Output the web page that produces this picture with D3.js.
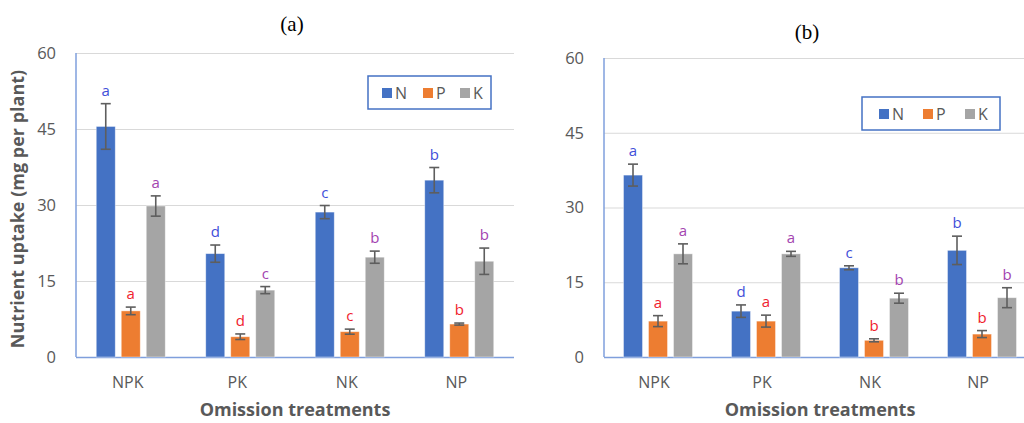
<!DOCTYPE html>
<html>
<head>
<meta charset="utf-8">
<script src="https://cdn.jsdelivr.net/npm/d3@7"></script>
<style>
  body { margin: 0; background: #fff; }
  svg { display: block; }
  text { font-family: "Open Sans", "Noto Sans", sans-serif; }
</style>
</head>
<body>
<script>
// data
const categories = ['NPK', 'PK', 'NK', 'NP'];
const nutrients = ['N', 'P', 'K'];
const yTicks = [0, 15, 30, 45, 60];

// panel (a)
const valuesA = {
  N: [45.5, 20.4, 28.6, 34.9],
  P: [9.1, 4.0, 5.0, 6.5],
  K: [29.8, 13.2, 19.7, 18.9]
};
const errorsA = {
  N: [4.5, 1.7, 1.3, 2.5],
  P: [0.75, 0.55, 0.5, 0.2],
  K: [2.0, 0.7, 1.2, 2.6]
};
const lettersA = {
  N: ['a', 'd', 'c', 'b'],
  P: ['a', 'd', 'c', 'b'],
  K: ['a', 'c', 'b', 'b']
};

// panel (b)
const valuesB = {
  N: [36.5, 9.2, 17.9, 21.4],
  P: [7.2, 7.2, 3.35, 4.6],
  K: [20.7, 20.7, 11.8, 11.9]
};
const errorsB = {
  N: [2.2, 1.25, 0.4, 2.85],
  P: [1.1, 1.2, 0.3, 0.7],
  K: [2.0, 0.5, 1.0, 2.0]
};
const lettersB = {
  N: ['a', 'd', 'c', 'b'],
  P: ['a', 'a', 'b', 'b'],
  K: ['a', 'a', 'b', 'b']
};

const barColor = { N: '#4472c4', P: '#ed7d31', K: '#a5a5a5' };
const letterColor = { N: '#3f4fd9', P: '#f0222e', K: '#a344b0' };
const textGray = '#595959';
const axisBlue = '#7f9fdc';

const svg = d3.select('body')
  .append('svg')
  .attr('width', 1024)
  .attr('height', 423);

// draws one panel of grouped bars
const drawPanel = (opts) => {
  const g = svg.append('g');

  const x = d3.scaleBand()
    .domain(categories)
    .range([opts.left, opts.right]);

  const xInner = d3.scaleBand()
    .domain(nutrients)
    .range([-34.5, 34.5])
    .paddingInner(0.24);

  const y = d3.scaleLinear()
    .domain([0, 60])
    .range([opts.bottom, opts.top]);

  // gridlines + tick labels
  const yAxis = g.append('g')
    .attr('transform', `translate(${opts.left},0)`)
    .call(d3.axisLeft(y).tickValues(yTicks).tickSize(-(opts.right - opts.left)).tickPadding(20));
  yAxis.select('.domain').remove();
  yAxis.selectAll('line')
    .attr('stroke', d => d === 0 ? axisBlue : '#d9d9d9')
    .attr('stroke-width', d => d === 0 ? 1.5 : 1.2);
  yAxis.selectAll('text')
    .attr('fill', textGray)
    .style('font-size', '16.5px');

  // left axis line
  g.append('line')
    .attr('x1', opts.left).attr('x2', opts.left)
    .attr('y1', y(0)).attr('y2', y(60))
    .attr('stroke', axisBlue)
    .attr('stroke-width', 1.5);

  // category labels
  g.selectAll('.cat')
    .data(categories)
    .enter()
    .append('text')
    .attr('x', d => x(d) + x.bandwidth() / 2 + opts.labelShift)
    .attr('y', opts.bottom + 31)
    .attr('text-anchor', 'middle')
    .attr('fill', textGray)
    .style('font-size', '16px')
    .text(d => d);

  const rows = [];
  nutrients.forEach(n => {
    categories.forEach((c, i) => {
      rows.push({ n, c, v: opts.values[n][i], e: opts.errors[n][i], l: opts.letters[n][i] });
    });
  });

  const cx = d => x(d.c) + x.bandwidth() / 2 + xInner(d.n);

  g.selectAll('.bar')
    .data(rows)
    .enter()
    .append('rect')
    .attr('x', cx)
    .attr('y', d => y(d.v))
    .attr('width', xInner.bandwidth())
    .attr('height', d => y(0) - y(d.v))
    .attr('fill', d => barColor[d.n])
    .attr('stroke', '#ffffff')
    .attr('stroke-opacity', 0.5)
    .attr('stroke-width', 0.8);

  // error bars
  const mid = d => cx(d) + xInner.bandwidth() / 2;
  const err = g.selectAll('.err')
    .data(rows)
    .enter()
    .append('g')
    .attr('stroke', '#5e5e5e')
    .attr('stroke-width', 1.6);
  err.append('line')
    .attr('x1', mid).attr('x2', mid)
    .attr('y1', d => y(d.v + d.e)).attr('y2', d => y(d.v - d.e));
  err.append('line')
    .attr('x1', d => mid(d) - 5).attr('x2', d => mid(d) + 5)
    .attr('y1', d => y(d.v + d.e)).attr('y2', d => y(d.v + d.e));
  err.append('line')
    .attr('x1', d => mid(d) - 5).attr('x2', d => mid(d) + 5)
    .attr('y1', d => y(d.v - d.e)).attr('y2', d => y(d.v - d.e));

  // significance letters
  g.selectAll('.letter')
    .data(rows)
    .enter()
    .append('text')
    .attr('x', mid)
    .attr('y', d => y(d.v + d.e) - 8)
    .attr('text-anchor', 'middle')
    .attr('fill', d => letterColor[d.n])
    .style('font-size', '15px')
    .text(d => d.l);

  // panel title
  g.append('text')
    .attr('x', opts.titleX)
    .attr('y', opts.titleY)
    .attr('text-anchor', 'middle')
    .attr('fill', '#000')
    .style('font-family', '"Liberation Serif", "DejaVu Serif", serif')
    .style('font-size', '21px')
    .text(opts.title);

  // x axis title
  g.append('text')
    .attr('x', opts.xTitleX)
    .attr('y', 416)
    .attr('text-anchor', 'middle')
    .attr('fill', textGray)
    .style('font-size', '18px')
    .style('font-weight', 'bold')
    .text('Omission treatments');

  // legend
  const lg = g.append('g').attr('transform', `translate(${opts.legend[0]},${opts.legend[1]})`);
  lg.append('rect')
    .attr('width', opts.legend[2])
    .attr('height', 33)
    .attr('fill', '#fff')
    .attr('stroke', '#4472c4')
    .attr('stroke-width', 1.5);
  const item = lg.selectAll('.item')
    .data(nutrients)
    .enter()
    .append('g')
    .attr('transform', (d, i) => `translate(${opts.legendX[i]},0)`);
  item.append('rect')
    .attr('y', 12)
    .attr('width', 10)
    .attr('height', 10)
    .attr('fill', d => barColor[d]);
  item.append('text')
    .attr('x', 13)
    .attr('y', 23)
    .attr('fill', textGray)
    .style('font-size', '16px')
    .text(d => d);
};

drawPanel({
  left: 76, right: 514, top: 53, bottom: 357,
  values: valuesA, errors: errorsA, letters: lettersA,
  labelShift: -3, title: '(a)', titleX: 292, titleY: 31, xTitleX: 295,
  legend: [368, 76, 123], legendX: [14, 55, 92]
});

drawPanel({
  left: 604, right: 1036, top: 58, bottom: 357,
  values: valuesB, errors: errorsB, letters: lettersB,
  labelShift: -4, title: '(b)', titleX: 807, titleY: 39, xTitleX: 820,
  legend: [862, 97, 138], legendX: [17, 61, 103]
});

// shared y axis title
svg.append('text')
  .attr('transform', 'translate(24,209) rotate(-90)')
  .attr('text-anchor', 'middle')
  .attr('fill', textGray)
  .style('font-size', '18px')
  .style('font-weight', 'bold')
  .text('Nutrient uptake (mg per plant)');
</script>
</body>
</html>
